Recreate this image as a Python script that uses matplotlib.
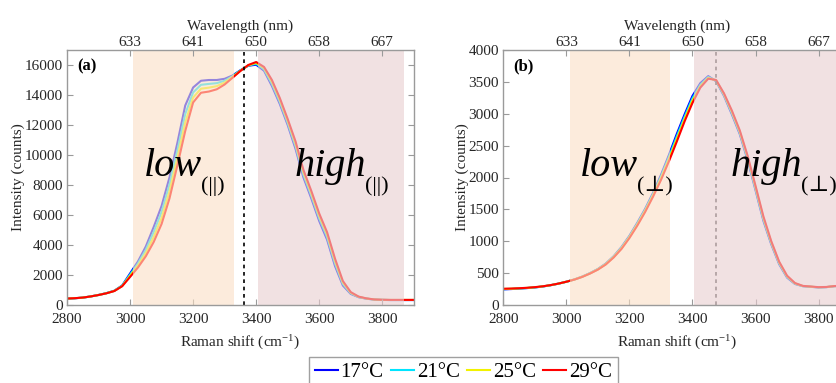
import matplotlib
matplotlib.use('Agg')
import matplotlib.pyplot as plt
from matplotlib.transforms import offset_copy

plt.rcParams['font.family'] = ['Liberation Serif', 'DejaVu Serif']
plt.rcParams['mathtext.fontset'] = 'custom'
plt.rcParams['mathtext.rm'] = 'Liberation Serif'
plt.rcParams['mathtext.it'] = 'Liberation Serif:italic'

# ---------------- data ----------------
raman = [2800, 2825, 2850, 2875, 2900, 2925, 2950, 2975, 3000, 3025, 3050, 3075,
         3100, 3125, 3150, 3175, 3200, 3225, 3250, 3275, 3300, 3325, 3350, 3375,
         3400, 3425, 3450, 3475, 3500, 3525, 3550, 3575, 3600, 3625, 3650, 3675,
         3700, 3725, 3750, 3775, 3800, 3825, 3850, 3875, 3900]

temps = ['17°C', '21°C', '25°C', '29°C']
colors = ['#0000ff', '#00e5ff', '#f2f200', '#ff0000']

# panel (a): parallel polarisation
a_17 = [420, 450, 490, 570, 670, 790, 950, 1300, 2100, 2900, 3900, 5200,
        6600, 8500, 10800, 13300, 14500, 14950, 15000, 15000, 15080, 15300, 15650, 15950,
        16020, 15620, 14600, 13400, 12000, 10400, 8500, 7100, 5600, 4350, 2600, 1300,
        740, 520, 420, 360, 340, 330, 330, 330, 330]
a_21 = [423, 452, 492, 570, 668, 787, 943, 1283, 2023, 2767, 3683, 4867,
        6200, 8030, 10300, 12730, 14170, 14680, 14740, 14790, 14950, 15250, 15630, 15970,
        16080, 15700, 14730, 13530, 12130, 10570, 8670, 7270, 5770, 4520, 2770, 1400,
        780, 533, 427, 363, 343, 333, 333, 333, 333]
a_25 = [427, 453, 493, 570, 667, 783, 937, 1267, 1947, 2633, 3467, 4533,
        5800, 7570, 9800, 12170, 13830, 14420, 14490, 14590, 14830, 15200, 15620, 15980,
        16140, 15790, 14870, 13670, 12270, 10730, 8830, 7430, 5930, 4680, 2930, 1500,
        820, 547, 433, 367, 347, 337, 337, 337, 337]
a_29 = [430, 455, 495, 570, 665, 780, 930, 1250, 1870, 2500, 3250, 4200,
        5400, 7100, 9300, 11600, 13500, 14150, 14230, 14380, 14700, 15150, 15600, 16000,
        16200, 15870, 15000, 13800, 12400, 10900, 9000, 7600, 6100, 4850, 3100, 1600,
        860, 560, 440, 370, 350, 340, 340, 340, 340]

# panel (b): perpendicular polarisation
b_17 = [245, 250, 258, 265, 275, 290, 310, 335, 365, 400, 445, 500,
        565, 650, 765, 910, 1085, 1290, 1510, 1760, 2040, 2350, 2680, 2990,
        3280, 3480, 3590, 3510, 3280, 2990, 2680, 2270, 1800, 1320, 950, 640,
        430, 330, 295, 285, 275, 280, 295, 300, 300]
b_21 = [248, 253, 260, 267, 277, 291, 311, 335, 365, 399, 443, 498,
        562, 645, 758, 900, 1073, 1275, 1493, 1740, 2013, 2317, 2640, 2953,
        3243, 3457, 3577, 3517, 3293, 3010, 2700, 2293, 1823, 1343, 967, 653,
        440, 335, 297, 287, 277, 281, 296, 301, 301]
b_25 = [252, 255, 261, 268, 278, 292, 311, 335, 365, 399, 442, 495,
        558, 640, 752, 890, 1062, 1260, 1477, 1720, 1987, 2283, 2600, 2917,
        3207, 3433, 3563, 3523, 3307, 3030, 2720, 2317, 1847, 1367, 983, 667,
        450, 340, 298, 288, 278, 282, 296, 301, 301]
b_29 = [255, 258, 263, 270, 280, 293, 312, 336, 365, 398, 440, 493,
        555, 635, 745, 880, 1050, 1245, 1460, 1700, 1960, 2250, 2560, 2880,
        3170, 3410, 3550, 3530, 3320, 3050, 2740, 2340, 1870, 1390, 1000, 680,
        460, 345, 300, 290, 280, 283, 297, 302, 302]

bottom_ticks = [2800, 3000, 3200, 3400, 3600, 3800]
top_tick_pos = [3000, 3200, 3400, 3600, 3800]
top_tick_labels = ['633', '641', '650', '658', '667']

a_yticks = list(range(0, 16001, 2000))
b_yticks = list(range(0, 4001, 500))

low_band = (3010, 3330)
high_band = (3405, 3868)
dash_a = 3360
dash_b = 3475

# ---------------- figure ----------------
fig = plt.figure(figsize=(8.37, 3.83), dpi=100)
renderer = fig.canvas.get_renderer()

ax_a = fig.add_axes([67 / 837, 78 / 383, 346.8 / 837, 255 / 383])
ax_b = fig.add_axes([503.3 / 837, 78 / 383, 346.8 / 837, 255 / 383])

spine_col = '#9a9a9a'
txt_col = '#262626'
low_col = (250 / 255, 223 / 255, 197 / 255)
high_col = (233 / 255, 205 / 255, 208 / 255)


def word_with_sub(ax, x, y, word, sub):
    t = ax.text(x, y, word, transform=ax.transAxes, fontsize=29,
                style='italic', ha='left', va='baseline', zorder=5)
    bb = t.get_window_extent(renderer=renderer)
    inv = ax.transAxes.inverted()
    x1 = inv.transform((bb.x1, bb.y0))[0]
    tr = offset_copy(ax.transAxes, fig=fig, x=-1, y=-15, units='dots')
    ax.text(x1, y, sub, transform=tr, fontsize=16, ha='left', va='baseline',
            zorder=5, family=['Liberation Serif', 'DejaVu Serif'])


def setup(ax, series, ylim, yticks, dash_x, dash_col, label, sub):
    for vals, col, lab in zip(series, colors, temps):
        ax.plot(raman, vals, color=col, lw=1.5, label=lab, zorder=1)
    ax.axvline(dash_x, color=dash_col, ls=(0, (2.2, 2.2)), lw=1.2, zorder=1.5)
    ax.axvspan(*low_band, facecolor=low_col, alpha=0.6, lw=0, zorder=2)
    ax.axvspan(*high_band, facecolor=high_col, alpha=0.6, lw=0, zorder=2)
    ax.set_xlim(2800, 3900)
    ax.set_ylim(*ylim)
    ax.set_xticks(bottom_ticks)
    ax.set_yticks(yticks)
    ax.tick_params(direction='in', length=4, width=0.8, color=spine_col,
                   labelsize=11, labelcolor=txt_col, right=True, pad=3)
    ax.tick_params(axis='x', pad=6)
    for s in ax.spines.values():
        s.set_color(spine_col)
        s.set_linewidth(1.0)
    ax.set_xlabel('Raman shift (cm$^{-1}$)', fontsize=11, color=txt_col, labelpad=5)
    ax.set_ylabel('Intensity (counts)', fontsize=11, color=txt_col, labelpad=0)
    top = ax.twiny()
    top.set_xlim(ax.get_xlim())
    top.set_xticks(top_tick_pos)
    top.set_xticklabels(top_tick_labels)
    top.tick_params(direction='in', length=4, width=0.8, color=spine_col,
                    labelsize=11, labelcolor=txt_col, pad=1)
    for s in top.spines.values():
        s.set_visible(False)
    top.set_xlabel('Wavelength (nm)', fontsize=11, color=txt_col, labelpad=4)
    ax.text(0.03, 0.937, label, transform=ax.transAxes, fontsize=12,
            fontweight='bold', va='center', ha='left', color='black', zorder=5)
    word_with_sub(ax, 0.222, 0.506, 'low', sub)
    word_with_sub(ax, 0.655, 0.506, 'high', sub)


setup(ax_a, [a_17, a_21, a_25, a_29], (0, 17000), a_yticks, dash_a, 'black',
      '(a)', '(||)')
setup(ax_b, [b_17, b_21, b_25, b_29], (0, 4000), b_yticks, dash_b, '#555555',
      '(b)', '(\u22a5)')

handles, labels = ax_a.get_legend_handles_labels()
leg = fig.legend(handles, labels, loc='upper center',
                 bbox_to_anchor=(463.5 / 837, 26 / 383), ncol=4, fontsize=15,
                 frameon=True, fancybox=False, edgecolor='#888888',
                 handlelength=1.1, handletextpad=0.15, columnspacing=0.35,
                 borderpad=0.25, borderaxespad=0)
leg.get_frame().set_linewidth(1.0)

fig.savefig('out.png', dpi=100)
